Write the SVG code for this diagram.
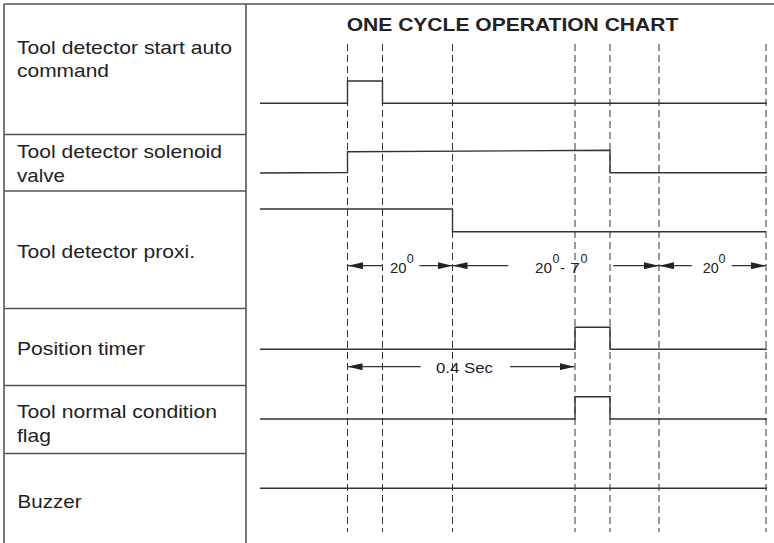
<svg xmlns="http://www.w3.org/2000/svg" width="774" height="543" viewBox="0 0 774 543">
<defs>
<style>
.frame{stroke:#555;stroke-width:1.6;fill:none}
.sig{stroke:#333;stroke-width:1.4;fill:none}
.dash{stroke:#333;stroke-width:1;stroke-dasharray:7,4;fill:none}
.arr{stroke:#333;stroke-width:1.3;fill:none;marker-end:url(#ah)}
.lbl{font-family:"Liberation Sans",Arial,sans-serif;font-size:19px;fill:#222}
.title{font-family:"Liberation Sans",Arial,sans-serif;font-size:17.8px;font-weight:bold;fill:#222}
.dim{font-family:"Liberation Sans",Arial,sans-serif;font-size:15.5px;fill:#222}
.sup{font-family:"Liberation Sans",Arial,sans-serif;font-size:12px;fill:#222}
</style>
<marker id="ah" markerUnits="userSpaceOnUse" markerWidth="15" markerHeight="7" refX="15" refY="3.5" orient="auto">
<path d="M0,0 L15,3.5 L0,7 z" fill="#222"/>
</marker>
</defs>
<rect width="774" height="543" fill="#fff"/>
<g id="frame">
<line class="frame" x1="4" y1="4" x2="774" y2="4"/>
<line class="frame" x1="4" y1="4" x2="4" y2="543"/>
<line class="frame" x1="246" y1="4" x2="246" y2="543"/>
<line class="frame" x1="4" y1="134.5" x2="246" y2="134.5"/>
<line class="frame" x1="4" y1="191" x2="246" y2="191"/>
<line class="frame" x1="4" y1="308.5" x2="246" y2="308.5"/>
<line class="frame" x1="4" y1="385.5" x2="246" y2="385.5"/>
<line class="frame" x1="4" y1="453.5" x2="246" y2="453.5"/>
</g>
<text class="title" x="346.7" y="31" textLength="331.6" lengthAdjust="spacingAndGlyphs">ONE CYCLE OPERATION CHART</text>
<g id="gridlines">
<line class="dash" x1="347.5" y1="44" x2="347.5" y2="532"/>
<line class="dash" x1="382.5" y1="44" x2="382.5" y2="532"/>
<line class="dash" x1="452.5" y1="44" x2="452.5" y2="532"/>
<line class="dash" x1="575" y1="44" x2="575" y2="532"/>
<line class="dash" x1="610" y1="44" x2="610" y2="532"/>
<line class="dash" x1="659" y1="44" x2="659" y2="532"/>
<line class="dash" x1="766" y1="44" x2="766" y2="532"/>
</g>
<g id="row-start-auto">
<text class="lbl" x="17" y="54.3" textLength="215" lengthAdjust="spacingAndGlyphs">Tool detector start auto</text>
<text class="lbl" x="17" y="77.3" textLength="92" lengthAdjust="spacingAndGlyphs">command</text>
<polyline class="sig" points="260,103.3 347.5,103.3 347.5,81 382.5,81 382.5,103.3 767,103.3"/>
</g>
<g id="row-solenoid">
<text class="lbl" x="17" y="158.3" textLength="205" lengthAdjust="spacingAndGlyphs">Tool detector solenoid</text>
<text class="lbl" x="17" y="182.3" textLength="48" lengthAdjust="spacingAndGlyphs">valve</text>
<polyline class="sig" points="260,173 347.5,172.5 347.5,151.7 610,150.3 610,172.7 767,172.7"/>
</g>
<g id="row-proxi">
<text class="lbl" x="17" y="258.3" textLength="178" lengthAdjust="spacingAndGlyphs">Tool detector proxi.</text>
<polyline class="sig" points="260,209 452.5,209 452.5,231.7 766,231.7"/>
</g>
<g id="row-position-timer">
<text class="lbl" x="17" y="355" textLength="128" lengthAdjust="spacingAndGlyphs">Position timer</text>
<polyline class="sig" points="260,349.3 575,349.3 575,327.3 610,327.3 610,349.3 767,349.3"/>
</g>
<g id="row-normal-flag">
<text class="lbl" x="17" y="418.3" textLength="200" lengthAdjust="spacingAndGlyphs">Tool normal condition</text>
<text class="lbl" x="17" y="441.7" textLength="34" lengthAdjust="spacingAndGlyphs">flag</text>
<polyline class="sig" points="260,419 575,419 575,396.7 610,396.7 610,419 767,419"/>
</g>
<g id="row-buzzer">
<text class="lbl" x="17.5" y="508.3" textLength="64" lengthAdjust="spacingAndGlyphs">Buzzer</text>
<polyline class="sig" points="260,488.3 767,488.3"/>
</g>
<g id="connectors">
<line class="arr" x1="382" y1="265.7" x2="348" y2="265.7"/>
<line class="arr" x1="419.5" y1="265.7" x2="452.5" y2="265.7"/>
<line class="arr" x1="508.3" y1="265.7" x2="452.5" y2="265.7"/>
<line class="arr" x1="613.3" y1="265.7" x2="659" y2="265.7"/>
<line class="arr" x1="691.7" y1="265.7" x2="659" y2="265.7"/>
<line class="arr" x1="731.7" y1="265.7" x2="766" y2="265.7"/>
<line class="arr" x1="420.7" y1="366.7" x2="347.5" y2="366.7"/>
<line class="arr" x1="510" y1="366.7" x2="574.5" y2="366.7"/>
</g>
<g id="dim-labels">
<text class="dim" x="390" y="273.3" textLength="16.5" lengthAdjust="spacingAndGlyphs">20</text>
<text class="sup" x="406.7" y="263" textLength="7" lengthAdjust="spacingAndGlyphs">0</text>
<text class="dim" x="535" y="273.3" textLength="17" lengthAdjust="spacingAndGlyphs">20</text>
<text class="sup" x="552.5" y="263" textLength="7" lengthAdjust="spacingAndGlyphs">0</text>
<text class="dim" x="560" y="273.3" textLength="5" lengthAdjust="spacingAndGlyphs">-</text>
<text class="dim" x="570" y="273.3" textLength="10" lengthAdjust="spacingAndGlyphs">7</text>
<text class="sup" x="580.5" y="263" textLength="7" lengthAdjust="spacingAndGlyphs">0</text>
<text class="dim" x="702.7" y="273.3" textLength="16" lengthAdjust="spacingAndGlyphs">20</text>
<text class="sup" x="718.5" y="263" textLength="7" lengthAdjust="spacingAndGlyphs">0</text>
<text class="dim" x="436" y="373.3" textLength="57" lengthAdjust="spacingAndGlyphs">0.4 Sec</text>
</g>
</svg>
